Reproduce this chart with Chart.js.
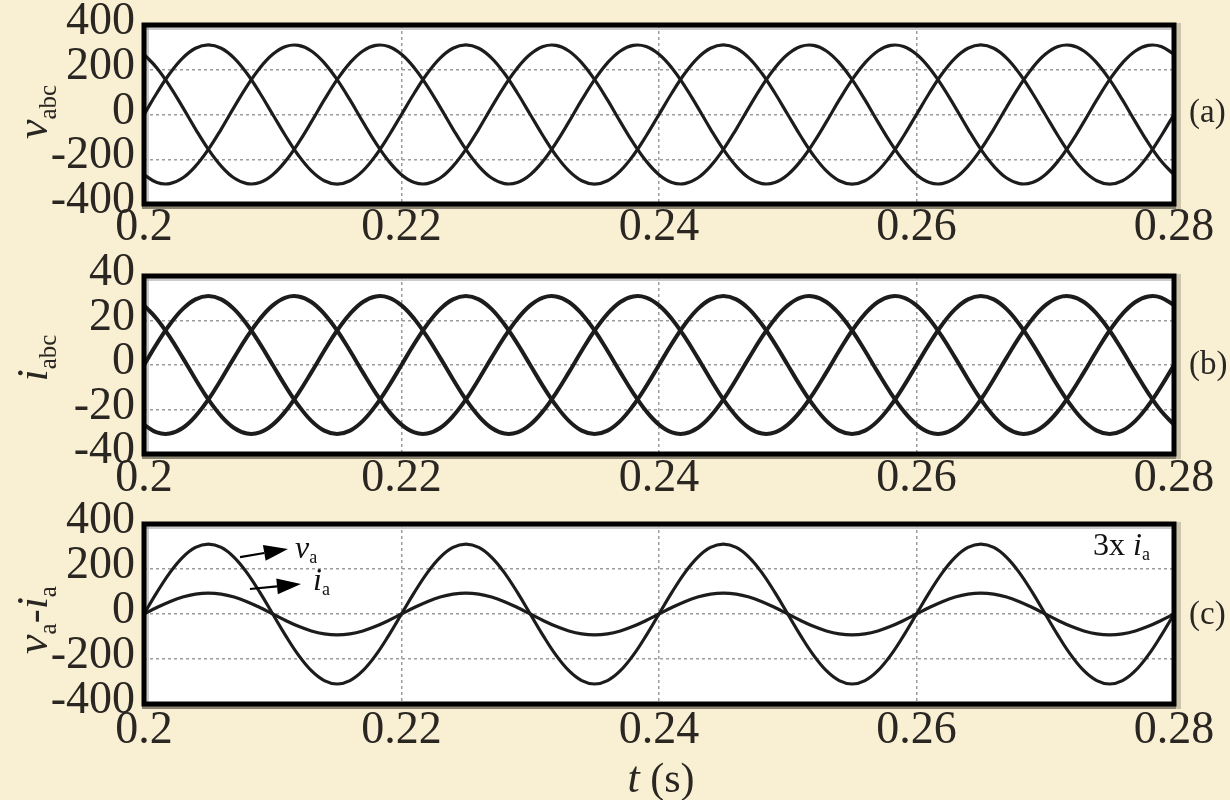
<!DOCTYPE html>
<html><head><meta charset="utf-8">
<script src="https://cdn.jsdelivr.net/npm/chart.js@4.4.0/dist/chart.umd.min.js"></script>
<style>
html,body{margin:0;padding:0;background:#f9efd3;}
#wrap{position:relative;width:1230px;height:800px;overflow:hidden;}
canvas{position:absolute;left:0;top:0;}
</style></head><body>
<div id="wrap">
<canvas id="ca" width="1230" height="800"></canvas>
<canvas id="cb" width="1230" height="800"></canvas>
<canvas id="cc" width="1230" height="800"></canvas>
</div>
<script>
// ---- data (time in s, sampled every 1 ms) ----
const times = [
0.200,0.201,0.202,0.203,0.204,0.205,0.206,0.207,0.208,0.209,
0.210,0.211,0.212,0.213,0.214,0.215,0.216,0.217,0.218,0.219,
0.220,0.221,0.222,0.223,0.224,0.225,0.226,0.227,0.228,0.229,
0.230,0.231,0.232,0.233,0.234,0.235,0.236,0.237,0.238,0.239,
0.240,0.241,0.242,0.243,0.244,0.245,0.246,0.247,0.248,0.249,
0.250,0.251,0.252,0.253,0.254,0.255,0.256,0.257,0.258,0.259,
0.260,0.261,0.262,0.263,0.264,0.265,0.266,0.267,0.268,0.269,
0.270,0.271,0.272,0.273,0.274,0.275,0.276,0.277,0.278,0.279,
0.280];
const va = [
0,96,183,252,296,311,296,252,183,96,0,-96,-183,-252,-296,-311,-296,-252,-183,-96,
0,96,183,252,296,311,296,252,183,96,0,-96,-183,-252,-296,-311,-296,-252,-183,-96,
0,96,183,252,296,311,296,252,183,96,0,-96,-183,-252,-296,-311,-296,-252,-183,-96,
0,96,183,252,296,311,296,252,183,96,0,-96,-183,-252,-296,-311,-296,-252,-183,-96,
0];
const vb = [
-269,-304,-309,-284,-231,-156,-65,33,127,208,269,304,309,284,231,156,65,-33,-127,-208,
-269,-304,-309,-284,-231,-156,-65,33,127,208,269,304,309,284,231,156,65,-33,-127,-208,
-269,-304,-309,-284,-231,-156,-65,33,127,208,269,304,309,284,231,156,65,-33,-127,-208,
-269,-304,-309,-284,-231,-156,-65,33,127,208,269,304,309,284,231,156,65,-33,-127,-208,
-269];
const vc = [
269,208,127,33,-65,-156,-231,-284,-309,-304,-269,-208,-127,-33,65,156,231,284,309,304,
269,208,127,33,-65,-156,-231,-284,-309,-304,-269,-208,-127,-33,65,156,231,284,309,304,
269,208,127,33,-65,-156,-231,-284,-309,-304,-269,-208,-127,-33,65,156,231,284,309,304,
269,208,127,33,-65,-156,-231,-284,-309,-304,-269,-208,-127,-33,65,156,231,284,309,304,
269];
const ia = [
0,9.6,18.2,25.1,29.5,31,29.5,25.1,18.2,9.6,0,-9.6,-18.2,-25.1,-29.5,-31,-29.5,-25.1,-18.2,-9.6,
0,9.6,18.2,25.1,29.5,31,29.5,25.1,18.2,9.6,0,-9.6,-18.2,-25.1,-29.5,-31,-29.5,-25.1,-18.2,-9.6,
0,9.6,18.2,25.1,29.5,31,29.5,25.1,18.2,9.6,0,-9.6,-18.2,-25.1,-29.5,-31,-29.5,-25.1,-18.2,-9.6,
0,9.6,18.2,25.1,29.5,31,29.5,25.1,18.2,9.6,0,-9.6,-18.2,-25.1,-29.5,-31,-29.5,-25.1,-18.2,-9.6,
0];
const ib = [
-26.8,-30.3,-30.8,-28.3,-23,-15.5,-6.4,3.3,12.6,20.7,26.8,30.3,30.8,28.3,23,15.5,6.4,-3.3,-12.6,-20.7,
-26.8,-30.3,-30.8,-28.3,-23,-15.5,-6.4,3.3,12.6,20.7,26.8,30.3,30.8,28.3,23,15.5,6.4,-3.3,-12.6,-20.7,
-26.8,-30.3,-30.8,-28.3,-23,-15.5,-6.4,3.3,12.6,20.7,26.8,30.3,30.8,28.3,23,15.5,6.4,-3.3,-12.6,-20.7,
-26.8,-30.3,-30.8,-28.3,-23,-15.5,-6.4,3.3,12.6,20.7,26.8,30.3,30.8,28.3,23,15.5,6.4,-3.3,-12.6,-20.7,
-26.8];
const ic = [
26.8,20.7,12.6,3.3,-6.4,-15.5,-23,-28.3,-30.8,-30.3,-26.8,-20.7,-12.6,-3.3,6.4,15.5,23,28.3,30.8,30.3,
26.8,20.7,12.6,3.3,-6.4,-15.5,-23,-28.3,-30.8,-30.3,-26.8,-20.7,-12.6,-3.3,6.4,15.5,23,28.3,30.8,30.3,
26.8,20.7,12.6,3.3,-6.4,-15.5,-23,-28.3,-30.8,-30.3,-26.8,-20.7,-12.6,-3.3,6.4,15.5,23,28.3,30.8,30.3,
26.8,20.7,12.6,3.3,-6.4,-15.5,-23,-28.3,-30.8,-30.3,-26.8,-20.7,-12.6,-3.3,6.4,15.5,23,28.3,30.8,30.3,
26.8];
const ia3x = [
0,28.7,54.7,75.2,88.4,93,88.4,75.2,54.7,28.7,0,-28.7,-54.7,-75.2,-88.4,-93,-88.4,-75.2,-54.7,-28.7,
0,28.7,54.7,75.2,88.4,93,88.4,75.2,54.7,28.7,0,-28.7,-54.7,-75.2,-88.4,-93,-88.4,-75.2,-54.7,-28.7,
0,28.7,54.7,75.2,88.4,93,88.4,75.2,54.7,28.7,0,-28.7,-54.7,-75.2,-88.4,-93,-88.4,-75.2,-54.7,-28.7,
0,28.7,54.7,75.2,88.4,93,88.4,75.2,54.7,28.7,0,-28.7,-54.7,-75.2,-88.4,-93,-88.4,-75.2,-54.7,-28.7,
0];
const xTickValues = [0.2, 0.22, 0.24, 0.26, 0.28];
const xTickLabels = ['0.2', '0.22', '0.24', '0.26', '0.28'];
const vTickValues = [-400, -200, 0, 200, 400];
const vTickLabels = ['-400', '-200', '0', '200', '400'];
const iTickValues = [-40, -20, 0, 20, 40];
const iTickLabels = ['-40', '-20', '0', '20', '40'];
const panelTags = ['(a)', '(b)', '(c)'];

// ---- layout / style ----
const SERIF = '"Liberation Serif","DejaVu Serif",serif';
const INK = '#2a2622';
const PLOT_L = 144, PLOT_R = 1174, YW = 140, XH = 50;

function pts(vals){ return times.map((t,i)=>({x:t, y:vals[i]})); }

function runs(ctx, x, y, list, align){
  let w = 0;
  list.forEach(r=>{ ctx.font = r.f; w += ctx.measureText(r.t).width; });
  let cx = align === 'center' ? x - w/2 : x;
  list.forEach(r=>{ ctx.font = r.f; ctx.fillText(r.t, cx, y + (r.dy||0)); cx += ctx.measureText(r.t).width; });
}
function rotRuns(ctx, x, y, list){
  ctx.save(); ctx.translate(x, y); ctx.rotate(-Math.PI/2);
  ctx.textBaseline = 'alphabetic'; ctx.fillStyle = INK;
  runs(ctx, 0, 0, list, 'center'); ctx.restore();
}
function arrow(ctx, x1, y1, x2, y2){
  const ang = Math.atan2(y2-y1, x2-x1), L = 24, H = 8;
  const bx = x2 - L*Math.cos(ang), by = y2 - L*Math.sin(ang);
  ctx.strokeStyle = '#000'; ctx.lineWidth = 2.2;
  ctx.beginPath(); ctx.moveTo(x1,y1); ctx.lineTo(bx,by); ctx.stroke();
  ctx.fillStyle = '#000'; ctx.beginPath(); ctx.moveTo(x2,y2);
  ctx.lineTo(bx + H*Math.sin(ang), by - H*Math.cos(ang));
  ctx.lineTo(bx - H*Math.sin(ang), by + H*Math.cos(ang)); ctx.closePath(); ctx.fill();
}

function makePanel(id, top, bottom, tickPad, yMin, yMax, yVals, yLabels, series, lw, tagIdx, tagY, titleY, titleRuns, extra){
  const frame = {
    id: 'frame'+id,
    beforeDraw(chart){
      const {ctx, chartArea:a} = chart;
      ctx.save(); ctx.fillStyle = '#fff'; ctx.fillRect(a.left, a.top, a.right-a.left, a.bottom-a.top); ctx.restore();
    },
    beforeDatasetsDraw(chart){
      const {ctx, chartArea:a} = chart;
      ctx.save(); ctx.fillStyle = 'rgba(140,140,140,0.45)';
      ctx.fillRect(a.left+2, a.top+2, a.right-a.left-4, 3);
      ctx.fillRect(a.left+2, a.top+2, 3, a.bottom-a.top-4);
      ctx.restore();
    },
    afterDraw(chart){
      const {ctx, chartArea:a} = chart;
      ctx.save();
      ctx.fillStyle = '#8b8473'; ctx.fillRect(a.left-2, a.bottom+2, a.right-a.left+6, 3);
      ctx.fillStyle = '#cdc4ab'; ctx.fillRect(a.right+2, a.top-2, 5, a.bottom-a.top+7);
      ctx.strokeStyle = '#000'; ctx.lineWidth = 5;
      ctx.strokeRect(a.left, a.top, a.right-a.left, a.bottom-a.top);
      ctx.fillStyle = INK; ctx.font = '33px '+SERIF; ctx.textBaseline = 'middle'; ctx.textAlign = 'left';
      ctx.fillText(panelTags[tagIdx], 1189, tagY);
      rotRuns(ctx, 47, titleY, titleRuns);
      if (extra) extra(chart);
      ctx.restore();
    }
  };
  return new Chart(document.getElementById(id), {
    type: 'line',
    data: { datasets: series.map(s=>({ data: pts(s), borderColor: '#1c1c1c', borderWidth: lw, pointRadius: 0, tension: 0.4, fill: false })) },
    options: {
      responsive: false, animation: false, devicePixelRatio: 1,
      layout: { padding: { left: PLOT_L - YW, right: 1230 - PLOT_R, top: top, bottom: 800 - bottom - XH } },
      plugins: { legend: {display:false}, tooltip: {enabled:false} },
      scales: {
        x: {
          type: 'linear', min: 0.2, max: 0.28,
          afterBuildTicks: s => { s.ticks = xTickValues.map(v=>({value:v})); },
          afterFit: s => { s.height = XH; s.paddingLeft = 0; s.paddingRight = 0; },
          grid: { color: '#9c9c9c', lineWidth: 1.5, drawTicks: false },
          border: { display: false, dash: [3,3] },
          ticks: { autoSkip: false, maxRotation: 0, minRotation: 0, padding: tickPad, color: INK,
                   font: { family: SERIF, size: 46, lineHeight: 1 },
                   callback: (v, i) => xTickLabels[i] }
        },
        y: {
          type: 'linear', min: yMin, max: yMax,
          afterBuildTicks: s => { s.ticks = yVals.map(v=>({value:v})); },
          afterFit: s => { s.width = YW; s.paddingTop = 0; s.paddingBottom = 0; },
          grid: { color: '#9c9c9c', lineWidth: 1.5, drawTicks: false },
          border: { display: false, dash: [3,3] },
          ticks: { autoSkip: false, padding: 9, labelOffset: -3, color: INK,
                   font: { family: SERIF, size: 46, lineHeight: 1 },
                   callback: (v, i) => yLabels[i] }
        }
      }
    },
    plugins: [frame]
  });
}

const IT42 = 'italic 44px '+SERIF, R24 = '25px '+SERIF, R42 = '42px '+SERIF;

makePanel('ca', 25, 204, 1, -400, 400, vTickValues, vTickLabels, [va, vb, vc], 3.2, 0, 113, 112,
  [{t:'v', f:IT42}, {t:'abc', f:R24, dy:9}]);

makePanel('cb', 276, 454, 2, -40, 40, iTickValues, iTickLabels, [ia, ib, ic], 4, 1, 365, 358,
  [{t:'i', f:IT42}, {t:'abc', f:R24, dy:9}]);

makePanel('cc', 524, 704, 4, -400, 400, vTickValues, vTickLabels, [va, ia3x], 3.2, 2, 615, 620,
  [{t:'v', f:IT42}, {t:'a', f:R24, dy:9}, {t:'-', f:R42}, {t:'i', f:IT42}, {t:'a', f:R24, dy:9}],
  chart => {
    const {ctx} = chart, X = chart.scales.x, Y = chart.scales.y;
    const px = t => X.getPixelForValue(t), py = v => Y.getPixelForValue(v);
    arrow(ctx, px(0.20746), py(253), px(0.21118), py(289));
    arrow(ctx, px(0.20823), py(111), px(0.21219), py(133));
    ctx.fillStyle = '#111'; ctx.textBaseline = 'alphabetic'; ctx.textAlign = 'left';
    runs(ctx, px(0.21173), py(249), [{t:'v', f:'italic 32px '+SERIF}, {t:'a', f:'18px '+SERIF, dy:5}], 'left');
    runs(ctx, px(0.21313), py(107), [{t:'i', f:'italic 32px '+SERIF}, {t:'a', f:'18px '+SERIF, dy:5}], 'left');
    runs(ctx, px(0.27371), py(262), [{t:'3x ', f:'32px '+SERIF}, {t:'i', f:'italic 32px '+SERIF}, {t:'a', f:'18px '+SERIF, dy:5}], 'left');
    ctx.fillStyle = INK;
    runs(ctx, 661, 792, [{t:'t', f:IT42}, {t:' (s)', f:R42}], 'center');
  });
</script>
</body></html>
